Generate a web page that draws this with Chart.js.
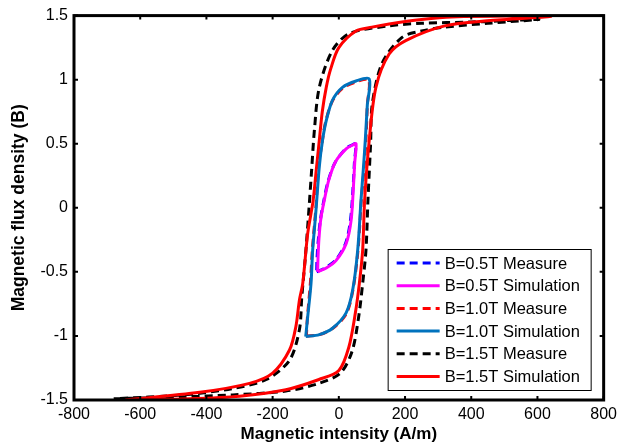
<!DOCTYPE html>
<html>
<head>
<meta charset="utf-8">
<script src="https://cdn.jsdelivr.net/npm/chart.js@4.4.1/dist/chart.umd.min.js"></script>
<style>
  body { margin: 0; background: #fff; }
  canvas { display: block; }
</style>
</head>
<body>
<canvas id="grafica" width="622" height="445"></canvas>
<script>
// tick labels
const xTicks = [-800, -600, -400, -200, 0, 200, 400, 600, 800];
const yTicks = [-1.5, -1, -0.5, 0, 0.5, 1, 1.5];

const etiquetas = [
  "B=0.5T Measure", "B=0.5T Simulation",
  "B=1.0T Measure", "B=1.0T Simulation",
  "B=1.5T Measure", "B=1.5T Simulation"
];

// B=0.5T
const h05Meas = [-67, -42, -10, 20, 35, 43, 47, 51, 40, 20, -12, -32, -45, -56, -62, -66, -67];
const b05Meas = [-0.5, -0.47, -0.41, -0.28, -0.1, 0.16, 0.35, 0.5, 0.49, 0.46, 0.35, 0.21, 0.06, -0.1, -0.25, -0.4, -0.5];
const h05Sim = [-64, -38, -8, 22, 37, 44, 48, 52, 42, 22, -10, -30, -43, -54, -60, -63, -64];
const b05Sim = [-0.5, -0.47, -0.41, -0.28, -0.1, 0.16, 0.35, 0.5, 0.49, 0.46, 0.36, 0.22, 0.07, -0.08, -0.24, -0.4, -0.5];

// B=1.0T
const h10Meas = [-98, -58, -18, 22, 42, 58, 68, 76, 82, 86, 90, 50, 10, -20, -40, -50, -61, -70, -80, -86, -95, -98];
const b10Meas = [-1.0, -0.99, -0.94, -0.83, -0.65, -0.33, 0.06, 0.3, 0.53, 0.8, 1.0, 0.98, 0.93, 0.83, 0.67, 0.52, 0.32, -0.02, -0.33, -0.59, -0.86, -1.0];
const h10Sim = [-100, -59, -19, 22, 42, 57, 67, 74, 80, 86, 92, 52, 11, -19, -38, -49, -59, -69, -79, -84, -94, -100];
const b10Sim = [-1.005, -0.99, -0.94, -0.82, -0.64, -0.33, 0.06, 0.3, 0.53, 0.8, 1.005, 0.99, 0.94, 0.84, 0.68, 0.53, 0.32, -0.02, -0.33, -0.59, -0.85, -1.005];

// B=1.5T
const h15Meas = [-680, -470, -320, -160, -60, 5, 40, 60, 72, 82, 88, 96, 101, 131, 191, 250, 320, 450, 604,
                 400, 250, 152, 32, -19, -59, -74, -82, -90, -100, -112, -119, -149, -219, -320, -470, -680];
const b15Meas = [-1.49, -1.475, -1.46, -1.43, -1.37, -1.29, -1.12, -0.85, -0.59, -0.33, 0.06, 0.5, 0.81, 1.13, 1.33, 1.38, 1.41, 1.44, 1.47,
                 1.45, 1.44, 1.42, 1.36, 1.23, 0.94, 0.6, 0.3, 0.0, -0.35, -0.7, -0.95, -1.19, -1.34, -1.41, -1.46, -1.49];
const h15Sim = [-645, -450, -300, -160, -60, 0, 30, 50, 62, 72, 78, 92, 112, 152, 202, 320, 450, 640,
                340, 250, 152, 100, 52, 0, -25, -38, -50, -60, -68, -78, -94, -109, -119, -130, -149, -200, -270, -420, -645];
const b15Sim = [-1.5, -1.49, -1.47, -1.42, -1.34, -1.27, -1.09, -0.82, -0.59, -0.33, 0.06, 0.53, 0.94, 1.2, 1.305, 1.42, 1.46, 1.495,
                1.49, 1.47, 1.435, 1.41, 1.38, 1.25, 1.08, 0.94, 0.75, 0.5, 0.3, 0.05, -0.2, -0.59, -0.72, -0.93, -1.11, -1.29, -1.37, -1.44, -1.5];

const colores = ["#0000ff", "#ff00ff", "#ff0000", "#0072bd", "#000000", "#ff0000"];
const guiones = [[8, 5], [], [8, 5], [], [8, 5], []];
const orden = [1, 0, 3, 2, 5, 4];
const series = [
  [h05Meas, b05Meas], [h05Sim, b05Sim],
  [h10Meas, b10Meas], [h10Sim, b10Sim],
  [h15Meas, b15Meas], [h15Sim, b15Sim]
];

const datasets = series.map((s, i) => ({
  label: etiquetas[i],
  data: s[0].map((h, k) => ({ x: h, y: s[1][k] })),
  showLine: true,
  borderColor: colores[i],
  backgroundColor: colores[i],
  borderWidth: 3,
  borderDash: guiones[i],
  pointRadius: 0,
  tension: 0.3,
  order: orden[i]
}));

// frame with inward ticks
const marcoPlugin = {
  id: "marco",
  afterDatasetsDraw(chart) {
    const { ctx, chartArea: a, scales: { x, y } } = chart;
    ctx.save();
    ctx.strokeStyle = "#000";
    ctx.lineWidth = 2;
    ctx.beginPath();
    xTicks.forEach(v => {
      const px = x.getPixelForValue(v);
      ctx.moveTo(px, a.bottom); ctx.lineTo(px, a.bottom - 4);
      ctx.moveTo(px, a.top); ctx.lineTo(px, a.top + 4);
    });
    yTicks.forEach(v => {
      const py = y.getPixelForValue(v);
      ctx.moveTo(a.left, py); ctx.lineTo(a.left + 4, py);
      ctx.moveTo(a.right, py); ctx.lineTo(a.right - 4, py);
    });
    ctx.stroke();
    ctx.lineWidth = 3;
    ctx.strokeRect(a.left, a.top, a.right - a.left, a.bottom - a.top);
    ctx.restore();
  }
};

// legend box in lower right corner
const leyendaPlugin = {
  id: "leyenda",
  afterDraw(chart) {
    const { ctx, chartArea: a } = chart;
    const w = 203, h = 141;
    const bx = a.right - 13 - w, by = a.bottom - 10 - h;
    ctx.save();
    ctx.fillStyle = "#fff";
    ctx.fillRect(bx, by, w, h);
    ctx.strokeStyle = "#000";
    ctx.lineWidth = 1;
    ctx.strokeRect(bx + 0.5, by + 0.5, w, h);
    ctx.font = "16.5px Arial, 'Liberation Sans', sans-serif";
    ctx.textBaseline = "middle";
    ctx.fillStyle = "#000";
    chart.data.datasets.forEach((ds, i) => {
      const cy = by + 14 + i * 22.7;
      ctx.strokeStyle = ds.borderColor;
      ctx.lineWidth = 3;
      ctx.setLineDash(ds.borderDash);
      ctx.beginPath();
      ctx.moveTo(bx + 9, cy);
      ctx.lineTo(bx + 52, cy);
      ctx.stroke();
      ctx.setLineDash([]);
      ctx.fillText(ds.label, bx + 57, cy + 1);
    });
    ctx.restore();
  }
};

Chart.defaults.font.family = "Arial, 'Liberation Sans', sans-serif";
Chart.defaults.color = "#000";

new Chart(document.getElementById("grafica").getContext("2d"), {
  type: "scatter",
  data: { datasets: datasets },
  options: {
    responsive: false,
    animation: false,
    layout: { padding: { top: 15, right: 17, left: 0, bottom: 0 } },
    plugins: {
      legend: { display: false },
      tooltip: { enabled: false }
    },
    scales: {
      x: {
        min: -800, max: 800,
        grid: { display: false, drawTicks: false },
        border: { display: false },
        ticks: { stepSize: 200, padding: 5, font: { size: 16 }, maxRotation: 0 },
        title: { display: true, text: "Magnetic intensity (A/m)", font: { size: 17, weight: "bold" }, padding: { top: 0, bottom: 0 } },
        afterFit: s => { s.height = 45; }
      },
      y: {
        min: -1.5, max: 1.5,
        grid: { display: false, drawTicks: false },
        border: { display: false },
        ticks: { stepSize: 0.5, padding: 6, font: { size: 16 }, callback: v => String(v) },
        title: { display: true, text: "Magnetic flux density (B)", font: { size: 17.5, weight: "bold" }, padding: { top: 9, bottom: 0 } },
        afterFit: s => { s.width = 74; }
      }
    }
  },
  plugins: [marcoPlugin, leyendaPlugin]
});
</script>
</body>
</html>
